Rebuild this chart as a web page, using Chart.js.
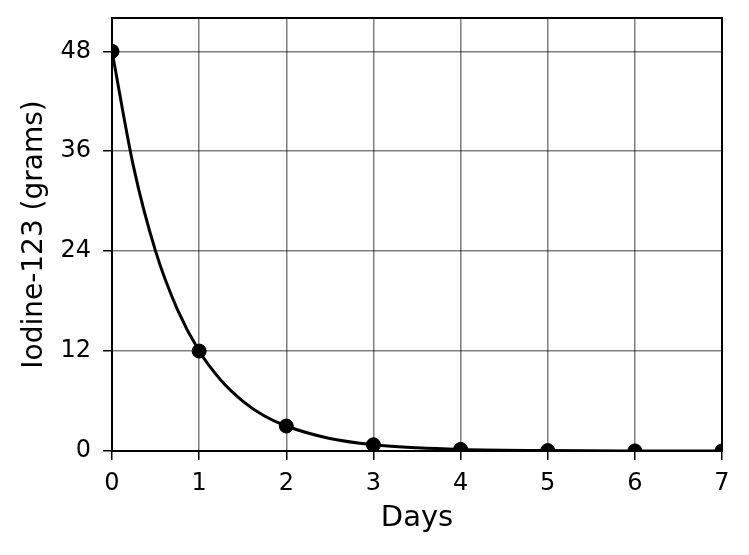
<!DOCTYPE html>
<html>
<head>
<meta charset="utf-8">
<script src="https://cdn.jsdelivr.net/npm/chart.js"></script>
<style>
  body { margin: 0; background: #fff; }
  canvas { display: block; }
</style>
</head>
<body>
<canvas id="myChart" width="749" height="555"></canvas>
<script>
// measured amounts (one per day)
const days = [0, 1, 2, 3, 4, 5, 6, 7];
const iodine = [48, 12, 3, 0.75, 0.19, 0.05, 0.01, 0.003];

// decay curve
const curveDays = [0, 0.25, 0.5, 0.75, 1, 1.25, 1.5, 1.75, 2, 2.5, 3, 3.5, 4, 5, 6, 7];
const curveGrams = [48, 34, 24, 17, 12, 8.5, 6, 4.2, 3, 1.5, 0.75, 0.38, 0.19, 0.05, 0.01, 0.003];

const xTicks = [0, 1, 2, 3, 4, 5, 6, 7];
const yTicks = [0, 12, 24, 36, 48];

const FONT = "'DejaVu Sans', sans-serif";

// matplotlib style frame on top of the data
const frame = {
    id: 'frame',
    afterDatasetsDraw(chart) {
        const a = chart.chartArea;
        const ctx = chart.ctx;
        ctx.save();
        ctx.strokeStyle = '#000';
        ctx.lineWidth = 2;
        ctx.strokeRect(a.left, a.top, a.right - a.left, a.bottom - a.top);
        ctx.restore();
    }
};

new Chart(document.getElementById('myChart').getContext('2d'), {
    type: 'scatter',
    data: {
        datasets: [
            {
                label: 'curve',
                data: curveDays.map((d, i) => ({ x: d, y: curveGrams[i] })),
                showLine: true,
                borderColor: '#000',
                borderWidth: 3,
                pointRadius: 0,
                cubicInterpolationMode: 'monotone',
                clip: 0
            },
            {
                label: 'measured',
                data: days.map((d, i) => ({ x: d, y: iodine[i] })),
                showLine: false,
                backgroundColor: '#000',
                borderColor: '#000',
                pointRadius: 7,
                clip: 0
            }
        ]
    },
    options: {
        responsive: false,
        devicePixelRatio: 1,
        animation: false,
        layout: { padding: { top: 18, right: 27, left: 0, bottom: 0 } },
        plugins: {
            legend: { display: false },
            tooltip: { enabled: false }
        },
        scales: {
            x: {
                type: 'linear',
                min: 0,
                max: 7,
                afterBuildTicks: s => { s.ticks = xTicks.map(v => ({ value: v })); },
                afterFit: s => { s.height = 104; s.paddingLeft = 0; s.paddingRight = 0; },
                border: { display: false },
                grid: {
                    color: 'rgba(0,0,0,0.5)',
                    lineWidth: 1.5,
                    tickColor: '#000',
                    tickLength: 9
                },
                ticks: {
                    color: '#000',
                    padding: 9,
                    font: { family: FONT, size: 24 }
                },
                title: {
                    display: true,
                    text: 'Days',
                    color: '#000',
                    padding: { top: 4, bottom: 19 },
                    font: { family: FONT, size: 29 }
                }
            },
            y: {
                min: 0,
                max: 52,
                afterBuildTicks: s => { s.ticks = yTicks.map(v => ({ value: v })); },
                afterFit: s => { s.width = 112; s.paddingTop = 0; s.paddingBottom = 0; },
                border: { display: false },
                grid: {
                    color: 'rgba(0,0,0,0.5)',
                    lineWidth: 1.5,
                    tickColor: '#000',
                    tickLength: 9
                },
                ticks: {
                    color: '#000',
                    padding: 12,
                    font: { family: FONT, size: 24 }
                },
                title: {
                    display: true,
                    text: 'Iodine-123 (grams)',
                    color: '#000',
                    padding: { top: 18, bottom: 0 },
                    font: { family: FONT, size: 28 }
                }
            }
        }
    },
    plugins: [frame]
});
</script>
</body>
</html>
